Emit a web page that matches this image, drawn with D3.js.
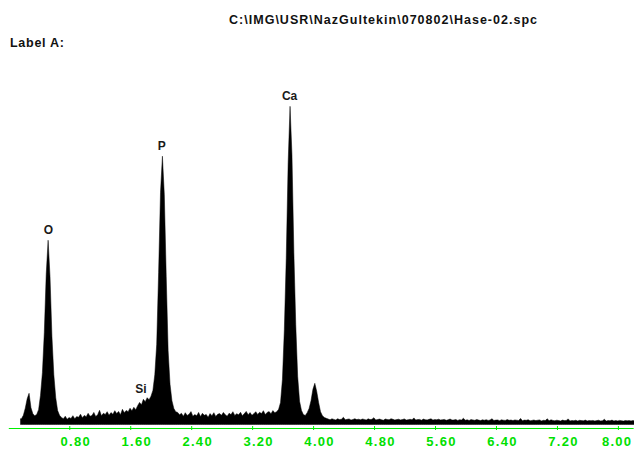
<!DOCTYPE html>
<html>
<head>
<meta charset="utf-8">
<script src="https://cdn.jsdelivr.net/npm/d3@7"></script>
<style>
  body { margin: 0; background: #fff; }
  svg { display: block; }
</style>
</head>
<body>
<svg id="chart" width="634" height="450"></svg>
<script>
// EDS spectrum, Hase-02
const fileName = "C:\\IMG\\USR\\NazGultekin\\070802\\Hase-02.spc";
const labelText = "Label A:";

// Channel layout (keV): first channel centre and spacing
const channelStart = 0.1725;
const channelWidth = 0.025;

// Counts per channel
const counts = [
  58, 92, 163, 257, 312, 168, 107, 88, 101, 148, 292, 518, 921, 1502, 1843, 1478, 883, 497, 268, 139,
  92, 71, 58, 83, 52, 69, 61, 88, 57, 79, 72, 103, 68, 91, 78, 112, 83, 89, 121, 79,
  98, 142, 87, 112, 101, 128, 93, 119, 102, 138, 109, 131, 98, 152, 118, 141, 128, 163, 137, 172,
  148, 188, 221, 197, 252, 228, 268, 247, 283, 341, 497, 802, 1518, 2322, 2683, 2297, 1483, 738, 402, 238,
  161, 128, 121, 98, 112, 82, 118, 91, 103, 129, 82, 99, 88, 121, 79, 112, 92, 101, 72, 109,
  88, 118, 81, 102, 109, 92, 121, 98, 83, 112, 99, 128, 91, 108, 97, 122, 88, 109, 131, 98,
  119, 92, 108, 128, 101, 122, 109, 138, 99, 121, 129, 108, 139, 118, 128, 152, 221, 452, 948, 1662,
  2618, 3182, 2697, 1721, 998, 482, 232, 141, 99, 91, 118, 161, 238, 352, 412, 331, 219, 128, 88, 71,
  62, 55, 48, 57, 51, 46, 58, 49, 53, 72, 47, 52, 56, 44, 50, 58, 49, 53, 47, 55,
  51, 45, 57, 49, 52, 68, 46, 50, 54, 48, 43, 55, 50, 47, 58, 52, 45, 49, 53, 46,
  50, 56, 44, 48, 52, 47, 66, 45, 49, 51, 43, 54, 48, 46, 52, 57, 44, 49, 47, 53,
  45, 48, 51, 42, 47, 55, 44, 46, 50, 41, 48, 45, 62, 43, 47, 40, 49, 46, 42, 50,
  44, 39, 47, 43, 48, 41, 45, 58, 40, 44, 46, 38, 47, 43, 41, 49, 42, 45, 39, 46,
  43, 40, 61, 38, 44, 42, 48, 37, 41, 45, 39, 43, 46, 36, 42, 40, 57, 38, 47, 41,
  37, 43, 40, 35, 44, 39, 41, 56, 36, 40, 38, 43, 35, 42, 39, 37, 44, 36, 40, 38,
  41, 35, 39, 43, 36, 38, 52, 34, 40, 37, 44, 35, 39, 36, 41, 38, 34, 40, 37, 39,
  36, 40, 35
];

// Peak identification
const elements = ["O", "Si", "P", "Ca"];
const lineEnergies = [0.525, 1.740, 2.013, 3.691];

// Energy axis
const tickValues = [0.8, 1.6, 2.4, 3.2, 4.0, 4.8, 5.6, 6.4, 7.2, 8.0];
const tickLabels = ["0.80", "1.60", "2.40", "3.20", "4.00", "4.80", "5.60", "6.40", "7.20", "8.00"];

const svg = d3.select("#chart");
const W = 634;

const x = d3.scaleLinear().domain([0, 8.2]).range([8.3, 8.3 + 76.2 * 8.2]);
const y = d3.scaleLinear().domain([0, 3200]).range([424.5, 104.5]);

// Spectrum drawn through channel centres, closed at the ends
const half = channelWidth / 2;
const pts = counts.map((c, i) => ({ e: channelStart + i * channelWidth, c }));
pts.unshift({ e: channelStart - half, c: counts[0] });
pts.push({ e: channelStart + (counts.length - 1) * channelWidth + half, c: counts[counts.length - 1] });

svg.append("defs").append("clipPath").attr("id", "clip")
  .append("rect").attr("x", 0).attr("y", 0).attr("width", W).attr("height", 450);

svg.append("path")
  .datum(pts)
  .attr("clip-path", "url(#clip)")
  .attr("fill", "#000")
  .attr("stroke", "#000")
  .attr("stroke-width", 0.5)
  .attr("stroke-linejoin", "miter")
  .attr("d", d3.area()
    .x(d => x(d.e))
    .y0(y(0))
    .y1(d => y(d.c))
    .curve(d3.curveLinear));

// Element labels above their lines
function localPeak(energy) {
  const idx = Math.round((energy - channelStart) / channelWidth);
  let m = 0;
  for (let k = idx - 2; k <= idx + 2; k++) if (counts[k] > m) m = counts[k];
  return m;
}
svg.append("g")
  .selectAll("text")
  .data(elements)
  .join("text")
  .attr("x", (d, i) => x(lineEnergies[i]))
  .attr("y", (d, i) => y(localPeak(lineEnergies[i])) - 6)
  .attr("text-anchor", "middle")
  .attr("font-family", "'Liberation Sans Narrow', 'Arial Narrow', 'Liberation Sans', sans-serif")
  .attr("font-weight", "bold")
  .attr("font-size", 12)
  .attr("fill", "#1a1a1a")
  .text(d => d);

// Energy axis (green)
const axisG = svg.append("g")
  .attr("transform", "translate(0,428)")
  .call(d3.axisBottom(x)
    .tickValues(tickValues)
    .tickFormat((d, i) => tickLabels[i])
    .tickSizeOuter(0)
    .tickSizeInner(2));
axisG.select(".domain").attr("stroke", "#00f000").attr("stroke-width", 1);
axisG.selectAll(".tick line").attr("stroke", "#00f000").attr("y1", -2).attr("y2", 2);
const lastTick = tickValues.length - 1;
axisG.selectAll(".tick text")
  .attr("y", 18)
  .attr("dy", null)
  .attr("text-anchor", (d, i) => i === lastTick ? "end" : "middle")
  .attr("dx", (d, i) => i === lastTick ? 14 : 6)
  .attr("fill", "#00e000")
  .attr("font-family", "'Liberation Sans Narrow', 'Arial Narrow', 'Liberation Sans', sans-serif")
  .attr("font-weight", "bold")
  .attr("font-size", 13)
  .attr("letter-spacing", 1.3);

// Header texts
svg.append("text")
  .attr("x", 229).attr("y", 24)
  .attr("font-family", "'Liberation Sans', Arial, sans-serif")
  .attr("font-weight", "bold")
  .attr("font-size", 12.5)
  .attr("textLength", 308)
  .attr("lengthAdjust", "spacing")
  .attr("fill", "#111")
  .text(fileName);

svg.append("text")
  .attr("x", 10).attr("y", 46.5)
  .attr("font-family", "'Liberation Sans', Arial, sans-serif")
  .attr("font-weight", "bold")
  .attr("font-size", 12.5)
  .attr("textLength", 54)
  .attr("lengthAdjust", "spacing")
  .attr("fill", "#111")
  .text(labelText);
</script>
</body>
</html>
